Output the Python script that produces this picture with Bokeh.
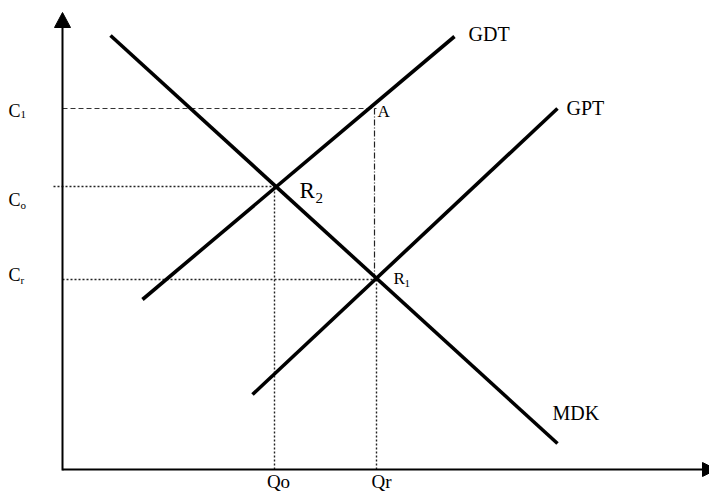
from bokeh.plotting import figure
from bokeh.models import Range1d
from bokeh.core.properties import value
from bokeh.embed import file_html
from bokeh.resources import INLINE

# ---- data (abstract quantity / price units, origin at axes' crossing) ----
mdk_x = [48, 495]
mdk_y = [434, 26]
gdt_x = [80, 392]
gdt_y = [170, 433]
gpt_x = [190, 495]
gpt_y = [75, 361]

q_o = 212      # Qo
q_r = 314      # Qr
c_1 = 361      # C1
c_o = 283      # Co
c_r = 190      # Cr

FONT = value("Liberation Serif")

p = figure(width=709, height=498, output_backend="svg", toolbar_location=None,
           x_range=Range1d(-62, 647), y_range=Range1d(-29, 469),
           min_border=0, min_border_left=0, min_border_right=0,
           min_border_top=0, min_border_bottom=0)
p.axis.visible = False
p.grid.visible = False
p.outline_line_color = None
p.background_fill_color = "white"

# ---- guide lines ----
p.line([0, q_r], [c_1, c_1], line_color="#333333", line_width=1.2, line_dash="5 3")
p.line([-9, q_o], [c_o, c_o], line_color="#222222", line_width=1.4, line_dash="2 2")
p.line([0, q_r], [c_r, c_r], line_color="#222222", line_width=1.4, line_dash="2 2")
p.line([q_o, q_o], [0, c_o], line_color="#222222", line_width=1.4, line_dash="2 2")
p.line([q_r, q_r], [0, c_r], line_color="#222222", line_width=1.4, line_dash="2 2")
p.line([q_r - 2, q_r - 2], [c_r, c_1], line_color="#222222", line_width=1.2, line_dash="6 2 1 2")

# ---- axes ----
p.line([0, 0], [-1, 444], line_color="black", line_width=2)
p.patch([-8, 8, 0], [442, 442, 457], color="black")
p.line([0, 642], [0, 0], line_color="black", line_width=2)
p.patch([640, 640, 654], [-7, 7, 0], color="black")

# ---- curves ----
for xs, ys in ((mdk_x, mdk_y), (gdt_x, gdt_y), (gpt_x, gpt_y)):
    p.line(xs, ys, line_color="black", line_width=3.6)

# ---- labels ----
def lab(x, y, t, size, align="left"):
    p.text(x=[x], y=[y], text=[t], text_font=FONT, text_font_size=size,
           text_align=align, text_baseline="middle", text_color="black")

lab(-54, 359, "C", "18px"); lab(-42, 355, "1", "11px")
lab(-54, 270, "C", "18px"); lab(-42, 265, "o", "11px")
lab(-54, 195, "C", "18px"); lab(-42, 190, "r", "11px")

lab(237, 279, "R", "23px"); lab(253, 272, "2", "15px")
lab(331, 191, "R", "17px"); lab(342, 186, "1", "11px")
lab(315, 358, "A", "17px")

lab(406, 436, "GDT", "20px")
lab(504, 362, "GPT", "20px")
lab(490, 57, "MDK", "20px")

lab(q_o + 4, -12, "Qo", "19px", "center")
lab(q_r + 5, -12, "Qr", "19px", "center")

open("out.html", "w").write(file_html(p, INLINE))
